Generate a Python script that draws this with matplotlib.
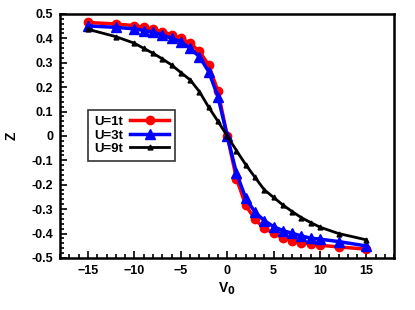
import numpy as np
import matplotlib
matplotlib.use("Agg")
import matplotlib.pyplot as plt
from matplotlib.ticker import MultipleLocator

# ---------- data ----------
v0 = [-15, -12, -10, -9, -8, -7, -6, -5, -4, -3, -2, -1, 0,
      1, 2, 3, 4, 5, 6, 7, 8, 9, 10, 12, 15]

z_u1 = [0.465, 0.459, 0.452, 0.445, 0.437, 0.427, 0.415, 0.400, 0.380, 0.347, 0.291, 0.184, 0.0,
        -0.175, -0.285, -0.342, -0.379, -0.399, -0.417, -0.429, -0.437, -0.443, -0.448, -0.455, -0.464]
z_u3 = [0.451, 0.445, 0.439, 0.432, 0.425, 0.414, 0.400, 0.387, 0.359, 0.325, 0.264, 0.161, 0.0,
        -0.153, -0.255, -0.313, -0.347, -0.372, -0.388, -0.399, -0.410, -0.419, -0.423, -0.433, -0.451]
z_u9 = [0.437, 0.407, 0.380, 0.359, 0.339, 0.316, 0.291, 0.260, 0.230, 0.182, 0.118, 0.060, 0.0,
        -0.060, -0.118, -0.170, -0.221, -0.252, -0.283, -0.310, -0.335, -0.355, -0.374, -0.400, -0.426]

labels = ["U=1t", "U=3t", "U=9t"]


def main():
    plt.rcParams["font.family"] = ["Liberation Sans", "DejaVu Sans"]
    plt.rcParams["font.weight"] = "bold"

    fig = plt.figure(figsize=(4.15, 3.10), dpi=100)
    ax = fig.add_axes([0.145, 0.168, 0.805, 0.787])

    ax.plot(v0, z_u1, color="#ff0000", lw=2.5, marker="o", ms=6, label=labels[0])
    ax.plot(v0, z_u3, color="#0000ff", lw=2.5, marker="^", ms=7.5, label=labels[1])
    ax.plot(v0, z_u9, color="black", lw=2.0, marker="^", ms=3.5, label=labels[2])

    ax.set_xlim(-18, 18)
    ax.set_ylim(-0.5, 0.5)
    ax.xaxis.set_major_locator(MultipleLocator(5))
    ax.xaxis.set_minor_locator(MultipleLocator(1))
    ax.yaxis.set_major_locator(MultipleLocator(0.1))
    ax.yaxis.set_minor_locator(MultipleLocator(0.02))
    ax.yaxis.set_major_formatter(plt.FuncFormatter(lambda v, p: "0" if abs(v) < 1e-9 else f"{v:.1f}"))

    ax.tick_params(which="both", direction="in", top=False, right=False,
                   labelsize=9, width=1.2, pad=5)
    ax.tick_params(which="major", length=5)
    ax.tick_params(which="minor", length=3)
    for s in ax.spines.values():
        s.set_linewidth(1.8)

    ax.set_xlabel("V$_\\mathbf{0}$", fontsize=10, fontweight="bold", labelpad=3)
    ax.set_ylabel("Z", fontsize=10, fontweight="bold", labelpad=9)

    leg = ax.legend(loc="upper left", bbox_to_anchor=(0.084, 0.607), markerfirst=False,
                    fontsize=9.5, frameon=True, fancybox=False, edgecolor="black",
                    handlelength=3.0, borderpad=0.45, borderaxespad=0,
                    labelspacing=0.1, handletextpad=0.5)
    leg.get_frame().set_linewidth(1.2)

    fig.savefig("out.png", dpi=100)


if __name__ == "__main__":
    main()
